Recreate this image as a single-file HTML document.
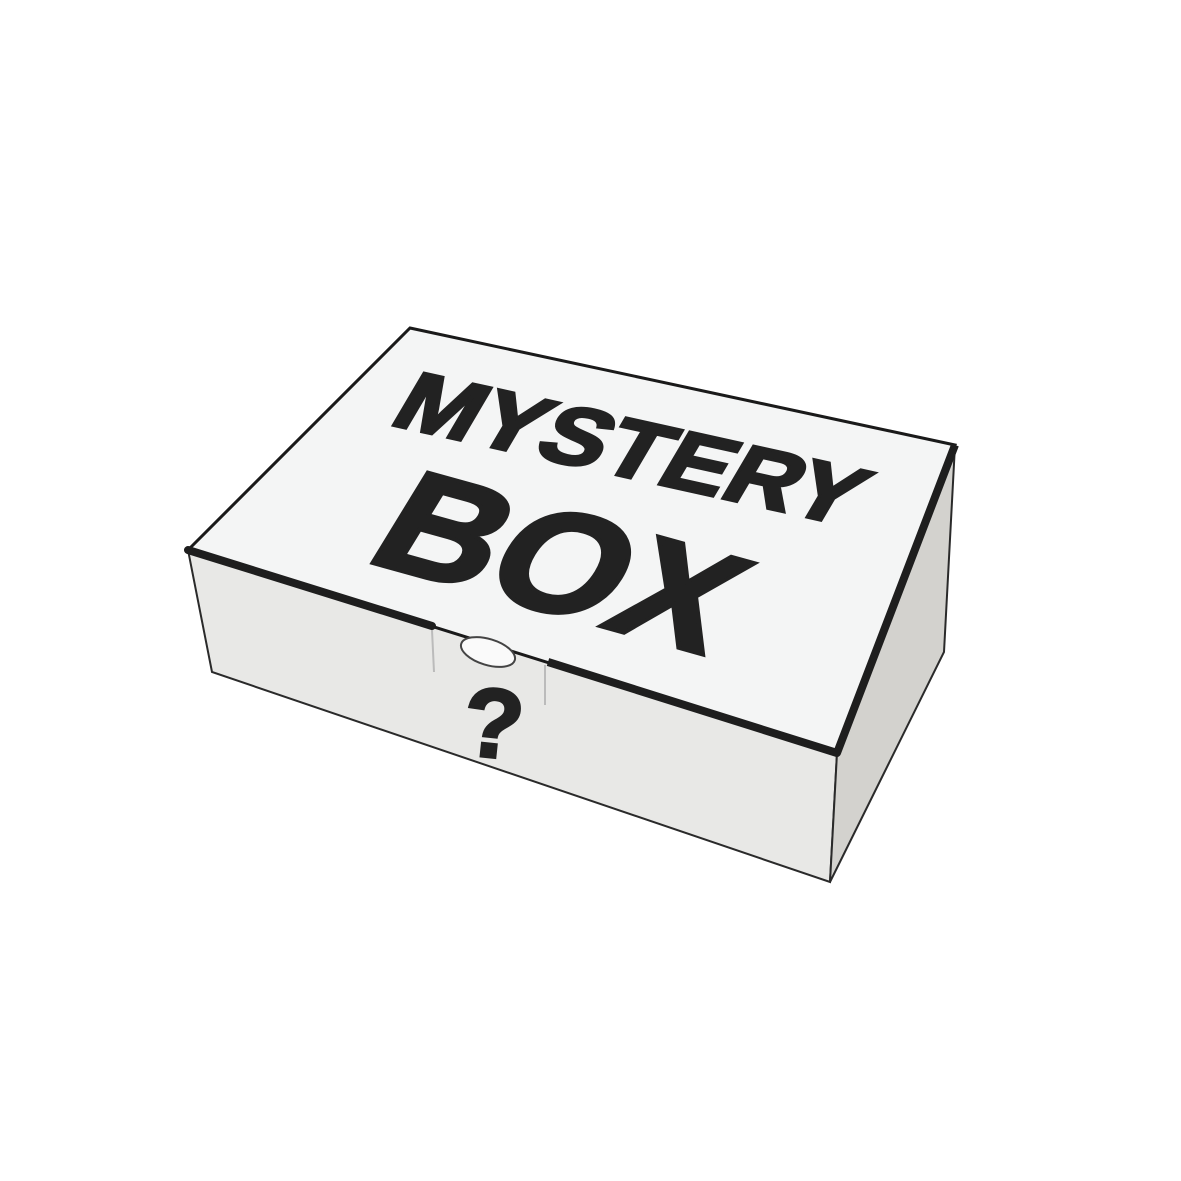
<!DOCTYPE html>
<html><head><meta charset="utf-8"><style>
html,body{margin:0;padding:0;background:#fff;}
svg{display:block;}
text{font-family:"Liberation Sans","DejaVu Sans",sans-serif;font-weight:bold;}
</style></head><body>
<svg width="1181" height="1181" viewBox="0 0 1181 1181" xmlns="http://www.w3.org/2000/svg">
<rect width="1181" height="1181" fill="#fff"/>
<!-- front face -->
<polygon points="188,550 837,753 830,882 212,672" fill="#e8e8e6" stroke="#2a2a2a" stroke-width="2"/>
<!-- right face -->
<polygon points="837,753 955,445 944,652 830,882" fill="#d3d2ce" stroke="#2a2a2a" stroke-width="2"/>
<!-- top face -->
<polygon points="410,328 955,445 837,753 188,550" fill="#f4f5f5" stroke="#1a1a1a" stroke-width="3"/>
<!-- thick dark edges -->
<polyline points="188,550 432,626" fill="none" stroke="#1e1e1e" stroke-width="8" stroke-linecap="round"/>
<polyline points="548,662 837,753 955,445" fill="none" stroke="#1e1e1e" stroke-width="8" stroke-linejoin="round"/>
<!-- tab -->
<ellipse cx="488" cy="652" rx="28" ry="13" fill="#fafafa" stroke="#444" stroke-width="2" transform="rotate(17 488 652)"/>
<line x1="432" y1="630" x2="434" y2="672" stroke="#bbb" stroke-width="2"/>
<line x1="545" y1="665" x2="545" y2="705" stroke="#bbb" stroke-width="2"/>
<!-- text -->
<g transform="translate(387,424) rotate(12.5) skewX(-18)">
<text x="0" y="0" font-size="84" fill="#222" stroke="#222" stroke-width="3" textLength="470" lengthAdjust="spacingAndGlyphs">MYSTERY</text>
</g>
<g transform="translate(362,560) rotate(15.5) skewX(-16)">
<text x="0" y="0" font-size="148" fill="#222" stroke="#222" stroke-width="4" textLength="355" lengthAdjust="spacingAndGlyphs">BOX</text>
</g>
<g transform="translate(490,757) rotate(6)">
<text x="0" y="0" font-size="98" text-anchor="middle" fill="#222" stroke="#222" stroke-width="3">?</text>
</g>
</svg>
</body></html>
